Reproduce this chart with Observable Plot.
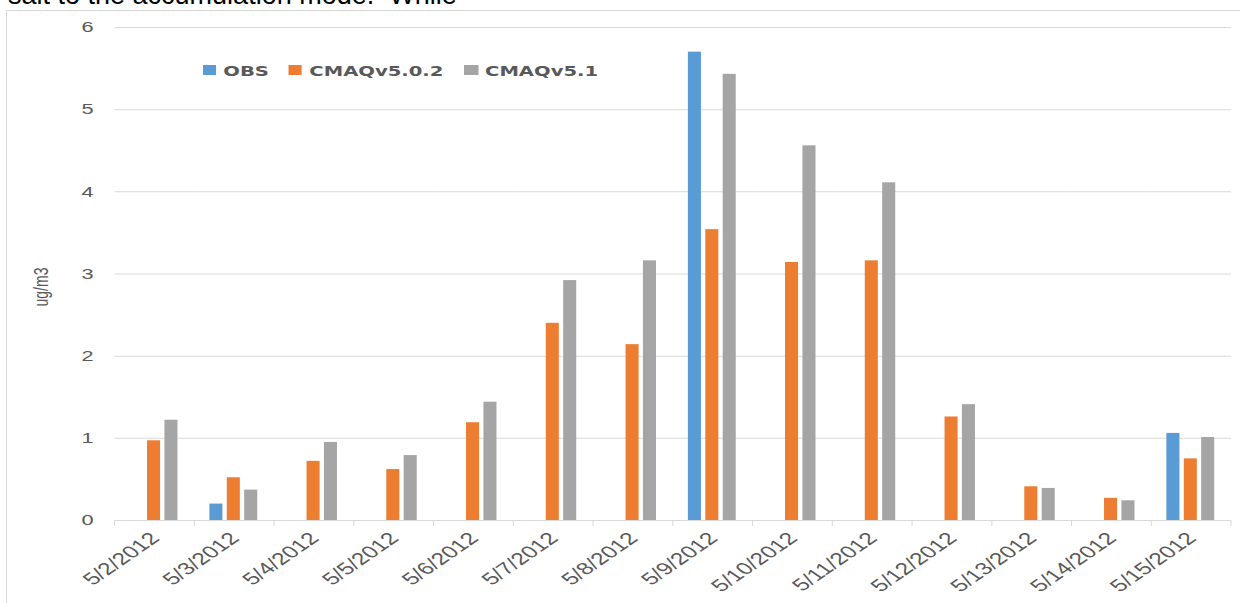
<!DOCTYPE html>
<html><head><meta charset="utf-8">
<script src="https://cdn.jsdelivr.net/npm/d3@7"></script>
<script src="https://cdn.jsdelivr.net/npm/@observablehq/plot@0.6"></script>
<style>
body{margin:0;background:#fff;}
#page{position:relative;width:1240px;height:603px;overflow:hidden;background:#fff;}
#doc{position:absolute;left:8px;top:-18px;font:27px/27px "Liberation Sans",Arial,sans-serif;color:#000;white-space:pre;}
#frame{position:absolute;left:6px;top:10px;width:1260px;height:640px;border:1px solid #d9d9d9;}
#chart{position:absolute;left:0;top:0;width:855px;height:603px;transform:scaleX(1.45);transform-origin:0 0;}
#chart svg{position:absolute;left:0;top:0;}
.lg-sw{position:absolute;top:65px;width:9.7px;height:10px;}
.lg-tx{position:absolute;top:62px;font:bold 13.5px/18px "DejaVu Sans",sans-serif;color:#595959;white-space:nowrap;}
#ylab{position:absolute;left:27.6px;top:287px;transform:translate(-50%,-50%) rotate(-90deg);font:14px "Liberation Sans",Arial,sans-serif;color:#595959;white-space:nowrap;}
</style>
</head><body>
<div id="page">
  <div id="doc">salt to the accumulation mode.  While</div>
  <div id="frame"></div>
  <div id="chart">
    <div id="ylab">ug/m3</div>
  </div>
</div>
<script>
const dates = ["5/2/2012","5/3/2012","5/4/2012","5/5/2012","5/6/2012","5/7/2012","5/8/2012","5/9/2012","5/10/2012","5/11/2012","5/12/2012","5/13/2012","5/14/2012","5/15/2012"];
const seriesNames = ["OBS","CMAQv5.0.2","CMAQv5.1"];
const colors = ["#5B9BD5","#ED7D31","#A5A5A5"];
const obs    = [null, 0.20, null, null, null, null, null, 5.70, null, null, null, null, null, 1.06];
const v502   = [0.97, 0.52, 0.72, 0.62, 1.19, 2.40, 2.14, 3.54, 3.14, 3.16, 1.26, 0.41, 0.27, 0.75];
const v51    = [1.22, 0.37, 0.95, 0.79, 1.44, 2.92, 3.16, 5.43, 4.56, 4.11, 1.41, 0.39, 0.24, 1.01];
const yTicks = [0,1,2,3,4,5,6];

const seriesValues = [obs, v502, v51];
const rows = [];
seriesNames.forEach((s, si) => {
  dates.forEach((d, di) => {
    const v = seriesValues[si][di];
    if (v != null) rows.push({date: d, series: s, value: v});
  });
});

const plot = Plot.plot({
  width: 855, height: 603,
  marginLeft: 78.6, marginRight: 4.8, marginTop: 27, marginBottom: 83,
  style: {fontFamily: "Liberation Sans, Arial, sans-serif", fontSize: "15px", color: "#595959", background: "transparent"},
  fx: {domain: dates, padding: 0, label: null, tickRotate: -45, tickSize: 0, tickPadding: 15},
  x: {domain: seriesNames, axis: null, paddingInner: 0.222, paddingOuter: 0.833},
  y: {domain: [0, 6], ticks: yTicks, tickFormat: d3.format("d"), tickSize: 0, tickPadding: 15, label: null},
  color: {domain: seriesNames, range: colors},
  marks: [
    Plot.ruleY(yTicks.slice(1), {stroke: "#d9d9d9"}),
    Plot.ruleY([0], {stroke: "#d9d9d9"}),
    Plot.barY(rows, {fx: "date", x: "series", y: "value", fill: "series"})
  ]
});

const chart = document.getElementById("chart");
chart.appendChild(plot);

const svgEl = plot.tagName.toLowerCase() === "svg" ? plot : plot.querySelector("svg");
// larger x tick labels
d3.select(svgEl).selectAll("[aria-label='fx-axis tick label'] text, [aria-label='fx-axis'] text").style("font-size", "17px");

// tick marks at category boundaries on the x axis
const fx = plot.scale("fx");
const ys = plot.scale("y");
const y0 = ys.apply(0);
const bounds = dates.map(d => fx.apply(d));
bounds.push(fx.apply(dates[dates.length - 1]) + fx.bandwidth);
d3.select(svgEl).append("g")
  .selectAll("line").data(bounds).join("line")
  .attr("x1", d => d).attr("x2", d => d)
  .attr("y1", y0).attr("y2", y0 + 6)
  .attr("stroke", "#d9d9d9").attr("stroke-width", 0.7);

// legend
const swX = [139.8, 198.8, 320];
const txX = [154, 213.3, 334.5];
seriesNames.forEach((s, i) => {
  const sw = document.createElement("div");
  sw.className = "lg-sw"; sw.style.left = swX[i] + "px"; sw.style.background = colors[i];
  chart.appendChild(sw);
  const tx = document.createElement("div");
  tx.className = "lg-tx"; tx.style.left = txX[i] + "px"; tx.textContent = s;
  chart.appendChild(tx);
});
</script>
</body></html>
